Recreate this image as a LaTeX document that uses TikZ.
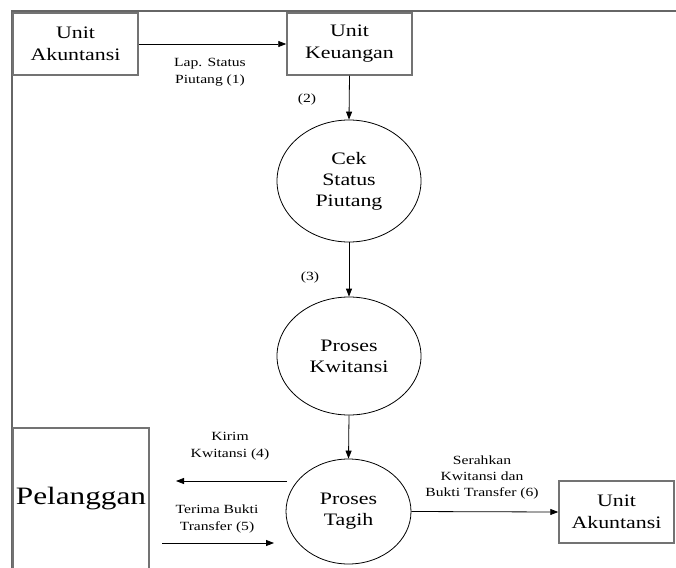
\documentclass[tikz,border=0pt]{standalone}
\usepackage{fontspec}
\setmainfont{Liberation Serif}[FakeStretch=1.25]
\usetikzlibrary{arrows.meta,shapes.geometric}
\tikzset{
  entity/.style={draw=black!55, line width=1.5pt, fill=white, rectangle, inner sep=0pt,
                 align=center, font=\fontsize{17.5}{22}\selectfont},
  proc/.style={draw=black, line width=0.8pt, ellipse, inner sep=0pt, align=center,
               font=\fontsize{17.5}{21}\selectfont},
  flow/.style={draw=black, line width=0.8pt, -{Triangle[length=8pt,width=6pt]}},
  lbl/.style={align=center, inner sep=0pt, font=\fontsize{12.5}{17.5}\selectfont},
  frameline/.style={draw=black!60, line width=1.2pt}
}
\begin{document}
\begin{tikzpicture}[x=1pt,y=1pt]
  \useasboundingbox (0,0) rectangle (676,-567);
  \clip (0,0) rectangle (676,-567);
  \fill[white] (0,0) rectangle (676,-567);

  % outer frame (open to the right and bottom)
  \draw[frameline] (12,-600) -- (12,-11) -- (700,-11);

  % external entities
  \node[entity, minimum width=125pt, minimum height=62pt] (ua1) at (75.5,-44) {Unit\\Akuntansi};
  \node[entity, minimum width=125pt, minimum height=62pt] (uk) at (349.5,-44) {Unit\\Keuangan};
  \node[entity, minimum width=136pt, minimum height=142pt,
        font=\fontsize{25}{30}\selectfont] (pel) at (81,-499) {Pelanggan};
  \node[entity, minimum width=115pt, minimum height=62pt] (ua2) at (616.5,-512) {Unit\\Akuntansi};

  % processes
  \node[proc, minimum width=144pt, minimum height=122pt] (cek) at (349,-181) {Cek\\Status\\Piutang};
  \node[proc, minimum width=144pt, minimum height=118pt] (kw) at (349,-356) {Proses\\Kwitansi};
  \node[proc, minimum width=125pt, minimum height=105pt] (tagih) at (348.5,-511.5) {Proses\\Tagih};

  % free ends of the flows between Pelanggan and Proses Tagih
  \coordinate (kirimA) at (287,-481);
  \coordinate (kirimB) at (176,-481);
  \coordinate (terimaA) at (162,-543);
  \coordinate (terimaB) at (274,-543);

  % data flows
  \draw[flow] (ua1.east) -- (uk.west);
  \draw[flow] (uk.south) -- (cek.north);
  \draw[flow] (cek.south) -- (kw.north);
  \draw[flow] (kw.south) -- (tagih.north);
  \draw[flow] (kirimA) -- (kirimB);
  \draw[flow] (terimaA) -- (terimaB);
  \draw[flow] (tagih.east) -- (ua2.west);

  % flow labels
  \node[lbl] (l1) at (210,-72) {Lap. Status\\Piutang (1)};
  \node[lbl] (l2) at (307,-99) {(2)};
  \node[lbl] (l3) at (310,-277) {(3)};
  \node[lbl] (l4) at (230,-446) {Kirim\\Kwitansi (4)};
  \node[lbl] (l5) at (217,-519) {Terima Bukti\\Transfer (5)};
  \node[lbl, font=\fontsize{12.5}{16}\selectfont] (l6) at (482,-477) {Serahkan\\Kwitansi dan\\Bukti Transfer (6)};
\end{tikzpicture}
\end{document}
